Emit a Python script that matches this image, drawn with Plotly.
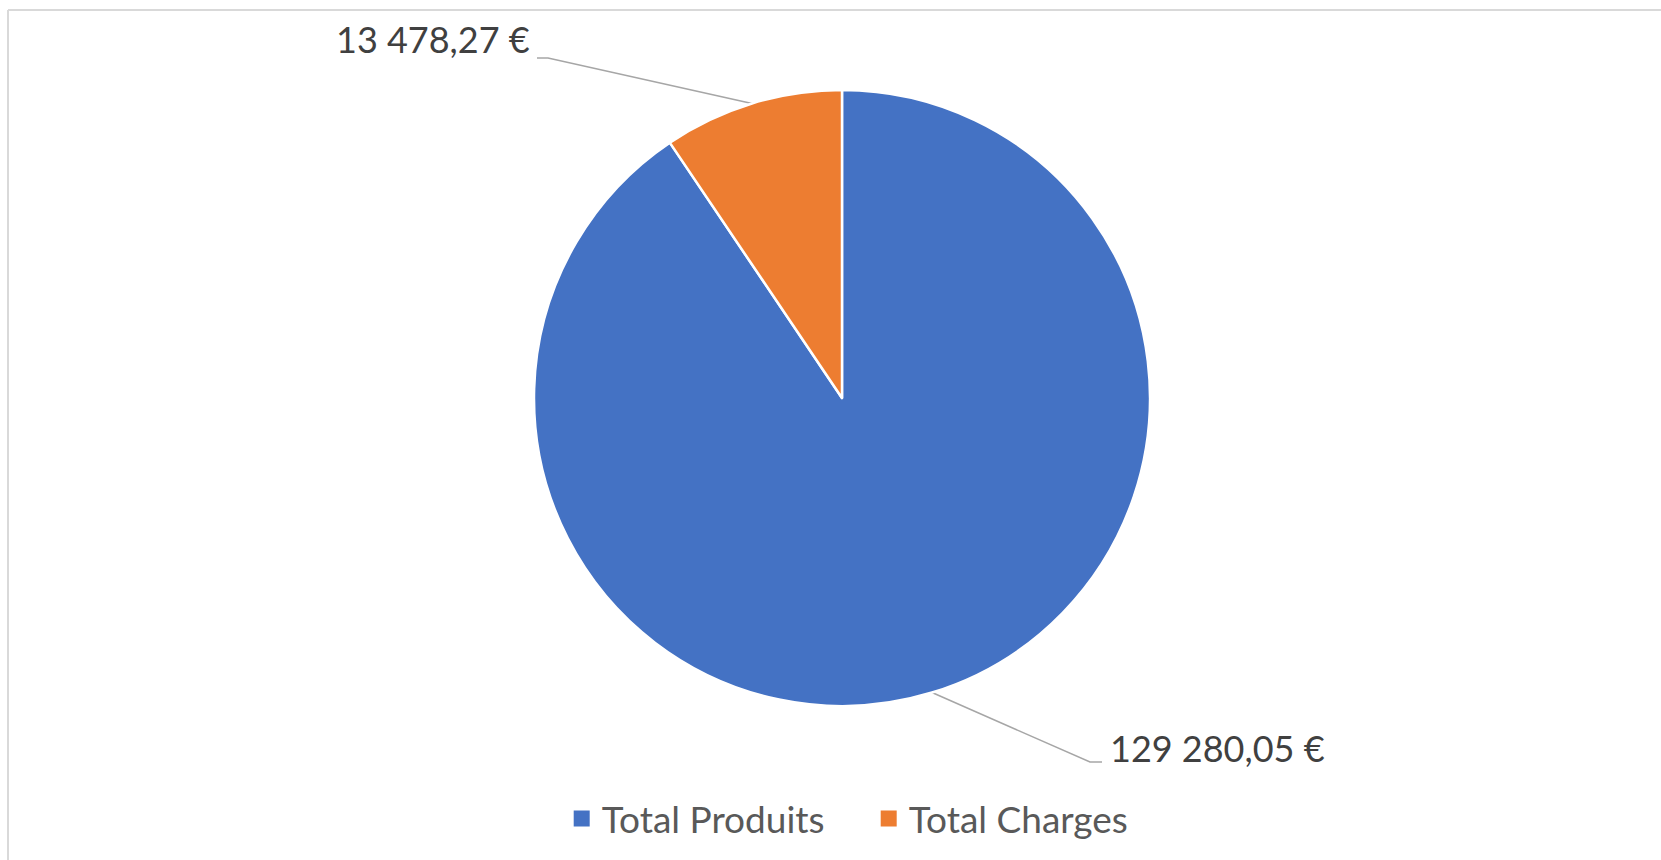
import math
import plotly.graph_objects as go

# ---- data ----
categories = ["Total Produits", "Total Charges"]
values = [129280.05, 13478.27]
colors = ["#4472C4", "#ED7D31"]

def fr_eur(v):
    s = f"{v:,.2f}".replace(",", " ").replace(".", ",")
    return s + " €"

# ---- layout constants (pixels) ----
W, H = 1661, 860
CX, CY, R = 842, 398, 308           # pie centre / radius (y measured from top)
FONT = "Lato"
LABEL_SIZE = 36
LEGEND_SIZE = 37
# label elbow point, text side, tail length, text baseline for each slice
elbows = [(1090, 762, "left", 12, 762), (548, 58, "right", 11, 53)]

fig = go.Figure()

fig.add_trace(go.Pie(
    labels=categories, values=values, sort=False, direction="clockwise",
    rotation=0, textinfo="none", hoverinfo="label+value",
    marker=dict(colors=colors, line=dict(color="white", width=2.5)),
    domain=dict(x=[(CX - R) / W, (CX + R) / W], y=[(H - CY - R) / H, (H - CY + R) / H]),
    showlegend=False,
))

# legend entries (square swatches)
for name, col in zip(categories, colors):
    fig.add_trace(go.Scatter(
        x=[None], y=[None], mode="markers", name=name,
        marker=dict(symbol="square", size=16, color=col),
        xaxis="x", yaxis="y", showlegend=True,
    ))

# leader lines computed from slice mid-angles
total = sum(values)
cum = 0.0
for i, v in enumerate(values):
    mid = (cum + v / 2) / total * 2 * math.pi
    cum += v
    r0 = 1.0 * R
    sx = CX + r0 * math.sin(mid)
    sy = CY - r0 * math.cos(mid)
    ex, ey, side, tail, base = elbows[i]
    tx = ex + tail if side == "left" else ex - tail
    fig.add_trace(go.Scatter(
        x=[sx, ex, tx], y=[sy, ey, ey], mode="lines",
        line=dict(color="#A6A6A6", width=1.5), hoverinfo="skip", showlegend=False,
        xaxis="x", yaxis="y",
    ))
    fig.add_annotation(
        x=tx + (6 if side == "left" else -5), y=base, xref="x", yref="y",
        text=fr_eur(v), showarrow=False,
        xanchor="left" if side == "left" else "right", yanchor="bottom",
        yshift=-10,
        font=dict(family=FONT, size=LABEL_SIZE, color="#404040"),
    )

fig.update_layout(
    width=W, height=H,
    margin=dict(l=0, r=0, t=0, b=0),
    paper_bgcolor="white", plot_bgcolor="rgba(0,0,0,0)",
    xaxis=dict(range=[0, W], visible=False, domain=[0, 1], fixedrange=True),
    yaxis=dict(range=[H, 0], visible=False, domain=[0, 1], fixedrange=True),
    legend=dict(
        orientation="h", x=0.523, xanchor="center", y=(H - 819) / H, yanchor="middle",
        font=dict(family=FONT, size=LEGEND_SIZE, color="#595959"),
        entrywidth=262, entrywidthmode="pixels",
        itemclick=False, itemdoubleclick=False,
    ),
    shapes=[
        dict(type="line", xref="paper", yref="paper", x0=8 / W, x1=1, y0=1 - 10 / H, y1=1 - 10 / H,
             line=dict(color="#D9D9D9", width=2)),
        dict(type="line", xref="paper", yref="paper", x0=8 / W, x1=8 / W, y0=0, y1=1 - 10 / H,
             line=dict(color="#D9D9D9", width=2)),
    ],
)

fig.write_html("out.html", config={"displayModeBar": False},
               post_script="document.body.style.margin='0';")
